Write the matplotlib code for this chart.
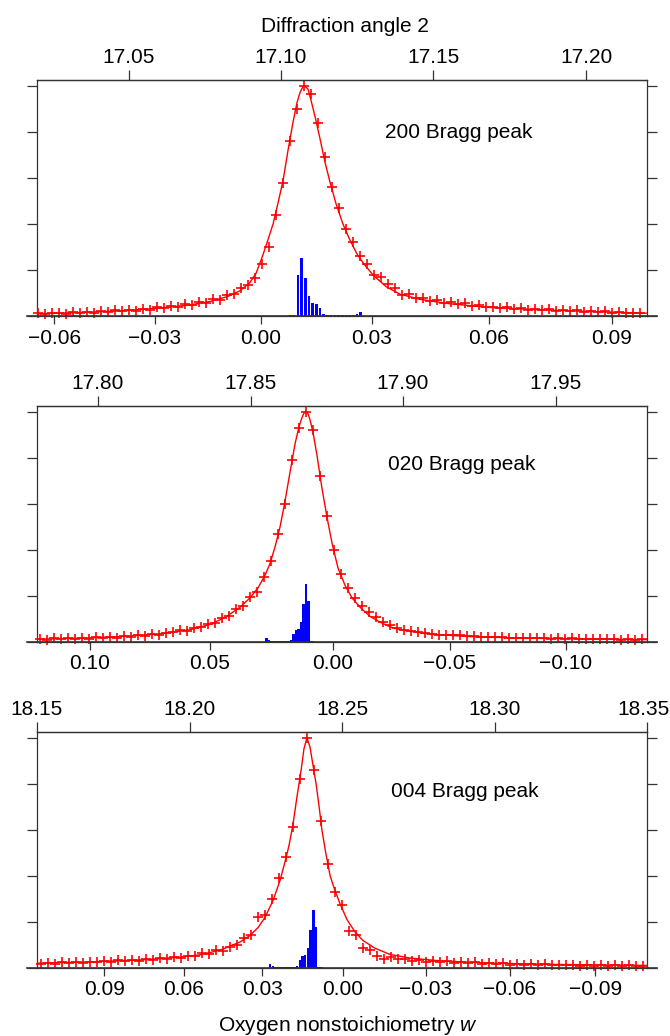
"""
Bragg peak profiles (200, 020, 004) with oxygen nonstoichiometry histogram
"""

import numpy as np
import matplotlib.pyplot as plt

plt.rcParams['font.family'] = ['Liberation Sans', 'DejaVu Sans']
plt.rcParams['mathtext.fontset'] = 'custom'
plt.rcParams['mathtext.rm'] = 'Liberation Sans'
plt.rcParams['mathtext.it'] = 'Liberation Sans:italic'

# distribution of oxygen nonstoichiometry w (blue bars, same in every panel)
w_bins = [0.008, 0.009, 0.010, 0.011, 0.012, 0.013, 0.014, 0.015, 0.016, 0.017,
          0.018, 0.019, 0.020, 0.021, 0.022, 0.023, 0.024, 0.025, 0.026, 0.027]
w_weight = [0.003, 0.003, 0.178, 0.250, 0.163, 0.087, 0.057, 0.050, 0.035, 0.009,
            0.003, 0.003, 0.003, 0.003, 0.003, 0.003, 0.003, 0.003, 0.009, 0.017]

# ---- 200 reflection ----
fit_tth_200 = [17.0203, 17.0341, 17.0472, 17.0603, 17.0702, 17.0767, 17.0826, 17.0866,
               17.0898, 17.0918, 17.0938, 17.0957, 17.0974, 17.0990, 17.1007, 17.1023,
               17.1039, 17.1052, 17.1062, 17.1069, 17.1075, 17.1082, 17.1089, 17.1098,
               17.1111, 17.1128, 17.1144, 17.1161, 17.1180, 17.1203, 17.1226, 17.1249,
               17.1272, 17.1302, 17.1344, 17.1390, 17.1456, 17.1554, 17.1685, 17.1849,
               17.2046, 17.2200]
fit_int_200 = [0.010, 0.015, 0.022, 0.034, 0.048, 0.063, 0.085, 0.110,
               0.145, 0.185, 0.255, 0.330, 0.400, 0.490, 0.590, 0.720,
               0.840, 0.925, 0.970, 0.990, 1.000, 0.995, 0.985, 0.940,
               0.870, 0.770, 0.670, 0.580, 0.490, 0.400, 0.330, 0.270,
               0.226, 0.178, 0.128, 0.095, 0.072, 0.053, 0.037, 0.027,
               0.018, 0.012]
obs_int_200 = [0.013, 0.007, 0.011, 0.015, 0.010, 0.016, 0.012, 0.018, 0.014, 0.020,
               0.017, 0.024, 0.020, 0.027, 0.023, 0.032, 0.028, 0.037, 0.033, 0.043,
               0.040, 0.051, 0.047, 0.059, 0.058, 0.072, 0.070, 0.090, 0.095, 0.120,
               0.135, 0.165, 0.225, 0.300, 0.440, 0.580, 0.760, 0.900, 1.000, 0.965,
               0.840, 0.690, 0.560, 0.470, 0.380, 0.320, 0.262, 0.226, 0.180, 0.168,
               0.139, 0.122, 0.092, 0.094, 0.080, 0.078, 0.066, 0.070, 0.056, 0.062,
               0.050, 0.055, 0.044, 0.049, 0.040, 0.041, 0.034, 0.037, 0.030, 0.034,
               0.027, 0.031, 0.025, 0.029, 0.022, 0.026, 0.020, 0.024, 0.018, 0.022,
               0.016, 0.020, 0.014, 0.018, 0.012, 0.015, 0.011]
obs_tth_200 = np.linspace(17.0203, 17.2177, len(obs_int_200))
tth_ticks_200 = [17.05, 17.10, 17.15, 17.20]
w_ticks_200 = [-0.06, -0.03, 0.00, 0.03, 0.06, 0.09]
w_tick_tth_200 = [17.0256, 17.0587, 17.0934, 17.1298, 17.1682, 17.2085]

# ---- 020 reflection ----
fit_tth_020 = [17.7803, 17.7941, 17.8072, 17.8203, 17.8302, 17.8367, 17.8416, 17.8466,
               17.8498, 17.8525, 17.8548, 17.8564, 17.8580, 17.8597, 17.8613, 17.8630,
               17.8646, 17.8659, 17.8669, 17.8675, 17.8682, 17.8689, 17.8695, 17.8705,
               17.8718, 17.8734, 17.8751, 17.8767, 17.8787, 17.8810, 17.8833, 17.8859,
               17.8892, 17.8925, 17.8957, 17.8990, 17.9089, 17.9220, 17.9384, 17.9580,
               17.9800]
fit_int_020 = [0.011, 0.015, 0.022, 0.034, 0.052, 0.075, 0.105, 0.150,
               0.190, 0.235, 0.290, 0.340, 0.410, 0.500, 0.610, 0.740,
               0.860, 0.935, 0.975, 0.993, 1.000, 0.990, 0.965, 0.910,
               0.810, 0.670, 0.540, 0.430, 0.320, 0.245, 0.190, 0.150,
               0.110, 0.085, 0.065, 0.052, 0.033, 0.022, 0.016, 0.012,
               0.009]
obs_int_020 = [0.013, 0.008, 0.014, 0.010, 0.016, 0.012, 0.018, 0.013, 0.019, 0.016,
               0.022, 0.018, 0.025, 0.022, 0.029, 0.025, 0.034, 0.031, 0.039, 0.040,
               0.049, 0.047, 0.059, 0.062, 0.076, 0.082, 0.102, 0.113, 0.140, 0.155,
               0.196, 0.217, 0.283, 0.350, 0.470, 0.600, 0.790, 0.930, 1.000, 0.920,
               0.720, 0.545, 0.400, 0.295, 0.232, 0.189, 0.155, 0.130, 0.109, 0.087,
               0.073, 0.060, 0.052, 0.046, 0.044, 0.038, 0.035, 0.031, 0.031, 0.027,
               0.027, 0.024, 0.024, 0.021, 0.022, 0.019, 0.020, 0.017, 0.018, 0.015,
               0.017, 0.014, 0.016, 0.013, 0.015, 0.012, 0.014, 0.011, 0.013, 0.010,
               0.012, 0.010, 0.011, 0.009, 0.011, 0.008, 0.010]
obs_tth_020 = np.linspace(17.7810, 17.9784, len(obs_int_020))
tth_ticks_020 = [17.80, 17.85, 17.90, 17.95]
w_ticks_020 = [0.10, 0.05, 0.00, -0.05, -0.10]
w_tick_tth_020 = [17.7973, 17.8367, 17.8770, 17.9154, 17.9534]

# ---- 004 reflection ----
fit_tth_004 = [18.1503, 18.1641, 18.1772, 18.1870, 18.1969, 18.2034, 18.2100, 18.2166,
               18.2198, 18.2225, 18.2248, 18.2274, 18.2297, 18.2313, 18.2326, 18.2339,
               18.2352, 18.2366, 18.2375, 18.2385, 18.2395, 18.2405, 18.2415, 18.2425,
               18.2434, 18.2448, 18.2461, 18.2477, 18.2493, 18.2516, 18.2543, 18.2569,
               18.2608, 18.2657, 18.2723, 18.2821, 18.2985, 18.3215, 18.3500]
fit_int_004 = [0.020, 0.024, 0.030, 0.036, 0.046, 0.056, 0.076, 0.112,
               0.140, 0.175, 0.220, 0.293, 0.380, 0.460, 0.530, 0.620,
               0.740, 0.860, 0.950, 1.000, 0.960, 0.880, 0.800, 0.700,
               0.600, 0.490, 0.400, 0.335, 0.280, 0.210, 0.155, 0.118,
               0.085, 0.058, 0.042, 0.030, 0.020, 0.014, 0.010]
obs_int_004 = [0.016, 0.022, 0.018, 0.024, 0.019, 0.025, 0.020, 0.027, 0.023, 0.029,
               0.026, 0.032, 0.028, 0.034, 0.031, 0.037, 0.033, 0.041, 0.037, 0.046,
               0.043, 0.053, 0.050, 0.062, 0.060, 0.075, 0.072, 0.092, 0.098, 0.128,
               0.142, 0.220, 0.229, 0.300, 0.390, 0.480, 0.610, 0.820, 1.000, 0.860,
               0.640, 0.450, 0.330, 0.272, 0.160, 0.142, 0.085, 0.075, 0.052, 0.040,
               0.045, 0.036, 0.040, 0.031, 0.035, 0.027, 0.031, 0.024, 0.028, 0.021,
               0.025, 0.019, 0.023, 0.017, 0.021, 0.016, 0.019, 0.014, 0.018, 0.013,
               0.016, 0.012, 0.015, 0.011, 0.014, 0.010, 0.013, 0.009, 0.012, 0.009,
               0.011, 0.008, 0.011, 0.008, 0.010, 0.007, 0.009]
obs_tth_004 = np.linspace(18.1513, 18.3487, len(obs_int_004))
tth_ticks_004 = [18.15, 18.20, 18.25, 18.30, 18.35]
w_ticks_004 = [0.09, 0.06, 0.03, 0.00, -0.03, -0.06, -0.09]
w_tick_tth_004 = [18.1720, 18.1982, 18.2238, 18.2503, 18.2775, 18.3051, 18.3330]

y_ticks = [0.0, 0.2, 0.4, 0.6, 0.8, 1.0]
AX_COLOR = "#333333"
FS = 15


def fmt(v):
    return "{:.2f}".format(v).replace("-", "\u2212")


def draw_panel(ax, fit_tth, fit_int, obs_tth, obs_int, tth_lim, tth_ticks,
               w_ticks, w_tick_tth, label, label_xy):
    """Draw one Bragg peak panel: 2theta on top, w on the bottom"""
    ax.set_xlim(tth_lim)
    ax.set_ylim(0, 1.026)

    # w histogram placed on the 2theta scale through the tick calibration
    w_arr = np.array(w_ticks)
    t_arr = np.array(w_tick_tth)
    if w_arr[0] > w_arr[-1]:
        w_arr, t_arr = w_arr[::-1], t_arr[::-1]
    bar_tth = np.interp(w_bins, w_arr, t_arr)
    ax.bar(bar_tth, w_weight, width=0.00085, color="#0000ff", linewidth=0, zorder=2)

    ax.plot(fit_tth, fit_int, color="red", lw=1.0, zorder=3)
    ax.plot(obs_tth, obs_int, ls="none", marker="+", ms=7, mew=1.2, color="red",
            clip_on=False, zorder=4)

    # bottom axis: oxygen nonstoichiometry
    ax.set_xticks(w_tick_tth)
    ax.set_xticklabels([fmt(w) for w in w_ticks])
    ax.tick_params(axis="x", direction="out", length=5.5, width=0.9, color=AX_COLOR,
                   pad=3.6, labelsize=FS)
    ax.set_yticks(y_ticks)
    ax.tick_params(axis="y", left=True, right=True, labelleft=False, direction="out",
                   length=7.4, width=0.9, color=AX_COLOR)
    for s in ax.spines.values():
        s.set_color(AX_COLOR)
        s.set_linewidth(0.9)

    # top axis: diffraction angle
    top_labels = ["{:.2f}".format(t) for t in tth_ticks]
    edge_label = None
    if tth_ticks[-1] >= tth_lim[1] - 1e-9:
        # label at the right edge is nudged inwards so it stays on the page
        edge_label = top_labels[-1]
        top_labels[-1] = ""
    sec = ax.secondary_xaxis("top")
    sec.set_xticks(tth_ticks)
    sec.set_xticklabels(top_labels)
    sec.tick_params(direction="out", length=7.4, width=0.9, color=AX_COLOR,
                    pad=1.9, labelsize=FS)
    sec.spines["top"].set_color(AX_COLOR)
    sec.spines["top"].set_linewidth(0.9)
    if edge_label:
        ax.annotate(edge_label, xy=(tth_ticks[-1], 1), xycoords=("data", "axes fraction"),
                    xytext=(-2.5, 7.4 + 1.9), textcoords="offset points",
                    ha="center", va="bottom", fontsize=FS, annotation_clip=False)

    # bottom line runs a little past the box
    ax.plot([-0.0164, 1.0164], [0, 0], transform=ax.transAxes, color=AX_COLOR,
            lw=1.2, clip_on=False, zorder=5)

    ax.text(label_xy[0], label_xy[1], label, transform=ax.transAxes, ha="center",
            va="baseline", fontsize=FS)


fig = plt.figure(figsize=(6.7, 10.36), dpi=100)
left, width, height = 37 / 670, 610 / 670, 236 / 1036
ax1 = fig.add_axes([left, 0.6950, width, height])
ax2 = fig.add_axes([left, 0.3806, width, height])
ax3 = fig.add_axes([left, 0.0659, width, height])

draw_panel(ax1, fit_tth_200, fit_int_200, obs_tth_200, obs_int_200, (17.02, 17.22),
           tth_ticks_200, w_ticks_200, w_tick_tth_200, "200 Bragg peak", (0.692, 0.754))
draw_panel(ax2, fit_tth_020, fit_int_020, obs_tth_020, obs_int_020, (17.78, 17.98),
           tth_ticks_020, w_ticks_020, w_tick_tth_020, "020 Bragg peak", (0.696, 0.728))
draw_panel(ax3, fit_tth_004, fit_int_004, obs_tth_004, obs_int_004, (18.15, 18.35),
           tth_ticks_004, w_ticks_004, w_tick_tth_004, "004 Bragg peak", (0.701, 0.723))

fig.text(345 / 670, 1 - 32 / 1036, "Diffraction angle 2", ha="center", va="baseline",
         fontsize=FS)
fig.text(348 / 670, 1 - 1031 / 1036, "Oxygen nonstoichiometry $w$", ha="center",
         va="baseline", fontsize=FS)

fig.savefig("out.png", dpi=100)
